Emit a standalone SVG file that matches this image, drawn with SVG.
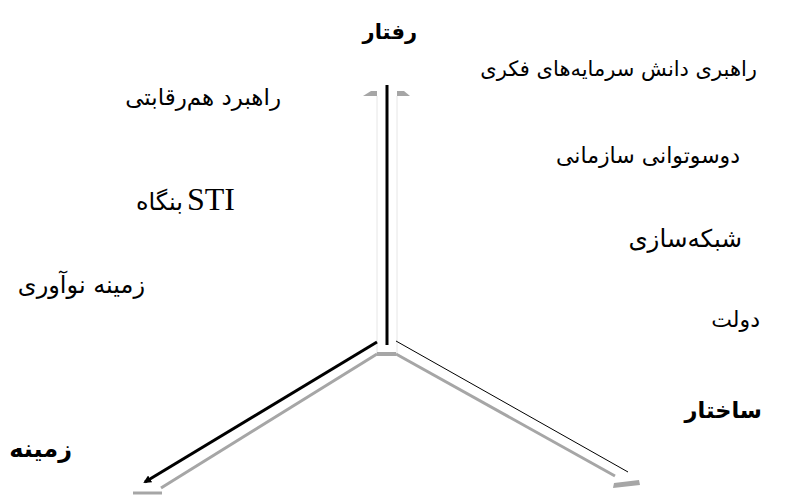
<svg xmlns="http://www.w3.org/2000/svg" width="788" height="495" viewBox="0 0 788 495">
<defs>
<style>
.fa{font-family:"DejaVu Sans","Noto Sans",sans-serif;font-size:21px;fill:#000;}
.fb{font-family:"DejaVu Sans","Noto Sans",sans-serif;font-size:22px;font-weight:bold;fill:#000;}
.lat{font-family:"Liberation Serif","Times New Roman",serif;font-size:32px;fill:#000;}
.gray{stroke:#a6a6a6;stroke-width:3;fill:none;}
.faint{stroke:#e6e6e6;stroke-width:1;fill:none;}
</style>
<marker id="ah" markerWidth="8" markerHeight="8" refX="6" refY="4" orient="auto" markerUnits="userSpaceOnUse">
<path d="M0,0 L8,4 L0,8 z" fill="#000"/>
</marker>
</defs>
<rect width="788" height="495" fill="#fff"/>
<g id="connectors">
<line class="faint" x1="377" y1="96" x2="377" y2="354"/>
<line class="faint" x1="397" y1="96" x2="397" y2="354"/>
<polygon points="363,96 377,96 377,91 371,91" fill="#a6a6a6"/>
<polygon points="397,96 410,96 404,91 397,91" fill="#a6a6a6"/>
<line x1="387" y1="85" x2="387" y2="345" stroke="#000" stroke-width="3"/>
<line x1="377" y1="354" x2="396" y2="354" stroke="#a6a6a6" stroke-width="4"/>
<line x1="377" y1="342" x2="145" y2="482" stroke="#000" stroke-width="3" marker-end="url(#ah)"/>
<line class="gray" x1="377" y1="354" x2="161" y2="488"/>
<line x1="133" y1="493" x2="162" y2="493" stroke="#a6a6a6" stroke-width="3"/>
<line x1="396" y1="341" x2="628" y2="472" stroke="#000" stroke-width="1"/>
<line class="gray" x1="396" y1="354" x2="615" y2="476"/>
<polygon points="614,483 639,480 640,485 613,488" fill="#a6a6a6"/>
</g>
<g id="axis-behavior"><text class="fb" x="417" y="39" text-anchor="end" style="font-size:21px">رفتار</text></g>
<g id="axis-structure"><text class="fb" x="762" y="418" text-anchor="end" style="font-size:22.5px">ساختار</text></g>
<g id="axis-context"><text class="fb" x="72" y="457" text-anchor="end" style="font-size:24px">زمینه</text></g>
<g id="n1"><text class="fa" x="757" y="76" text-anchor="end">راهبری دانش سرمایه‌های فکری</text></g>
<g id="n2"><text class="fa" x="740" y="163" text-anchor="end" style="font-size:22px">دوسوتوانی سازمانی</text></g>
<g id="n3"><text class="fa" x="742" y="247" text-anchor="end" style="font-size:24.5px">شبکه‌سازی</text></g>
<g id="n4"><text class="fa" x="760" y="327" text-anchor="end" style="font-size:22px">دولت</text></g>
<g id="n5"><text class="fa" x="281" y="105" text-anchor="end" style="font-size:23px">راهبرد هم‌رقابتی</text></g>
<g id="n6"><text class="lat" x="235" y="210" text-anchor="end">STI</text><text class="fa" x="183" y="210" text-anchor="end" style="font-size:24px">بنگاه</text></g>
<g id="n7"><text class="fa" x="145" y="293" text-anchor="end" style="font-size:24px">زمینه نوآوری</text></g>
</svg>
